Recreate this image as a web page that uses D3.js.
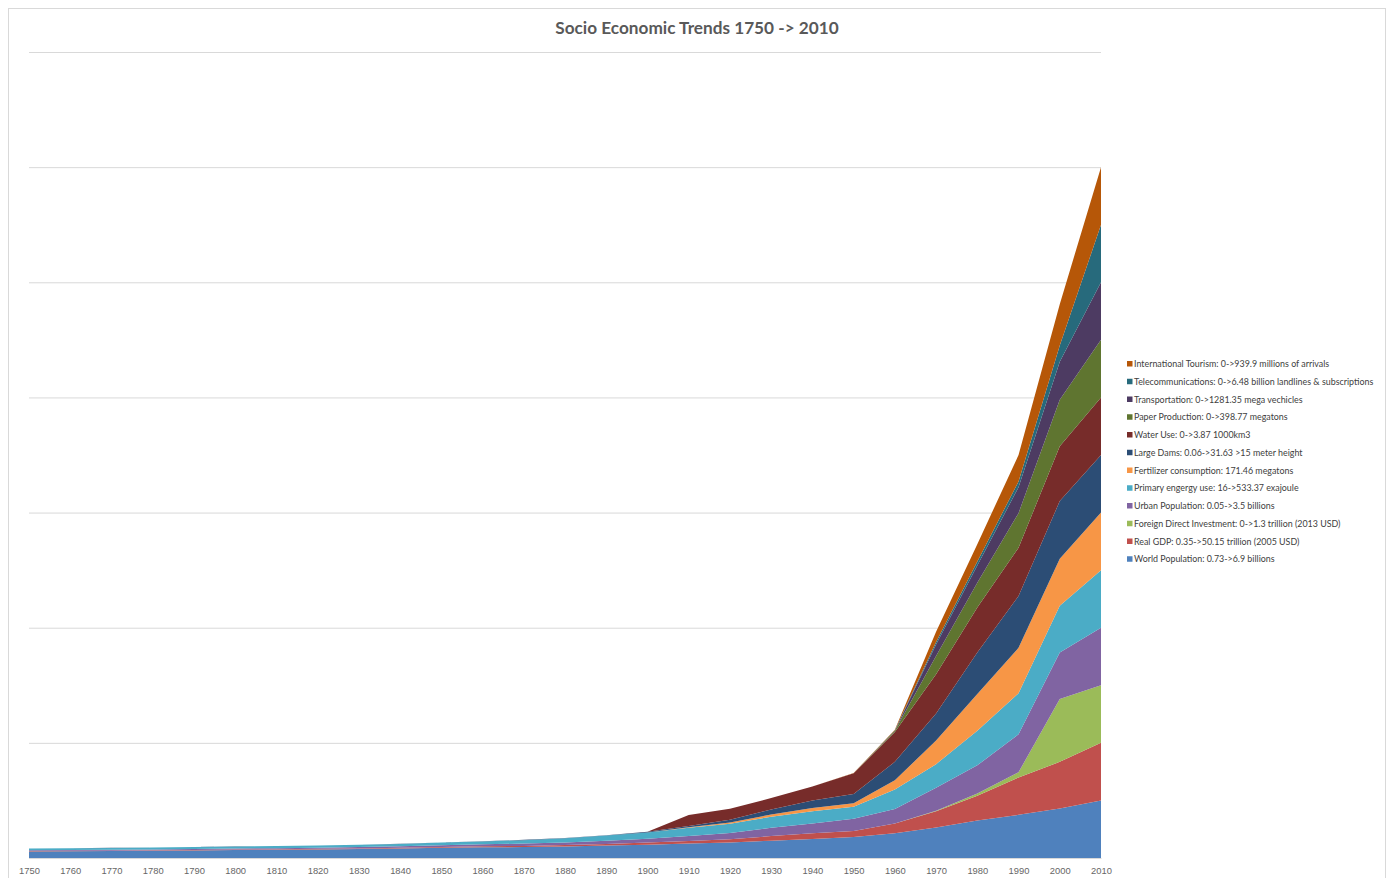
<!DOCTYPE html>
<html>
<head>
<meta charset="utf-8">
<script src="https://cdn.jsdelivr.net/npm/d3@7"></script>
<style>
body { margin: 0; background: #fff; }
svg { font-family: Lato, 'Open Sans', sans-serif; }
.grid line { stroke: #d9d9d9; }
.grid .domain { display: none; }
.x-axis .domain { stroke: #d9d9d9; }
.x-axis text { fill: #666; font-size: 9.4px; }
.legend text { fill: #404040; font-size: 8.9px; }
</style>
</head>
<body>
<svg id="chart" width="1391" height="878"></svg>
<script>
// values are each series divided by its 2010 value (as plotted)
var years = [1750,1760,1770,1780,1790,1800,1810,1820,1830,1840,1850,1860,1870,1880,1890,
             1900,1910,1920,1930,1940,1950,1960,1970,1980,1990,2000,2010];

var population = [0.114,0.117,0.12,0.125,0.132,0.137,0.142,0.148,0.155,0.165,0.178,0.185,0.19,0.2,0.215,
                  0.23,0.25,0.27,0.3,0.33,0.365,0.43,0.53,0.65,0.75,0.86,1.0];
var gdp = [0.007,0.007,0.008,0.008,0.009,0.01,0.01,0.011,0.012,0.013,0.015,0.017,0.02,0.024,0.03,
           0.04,0.045,0.055,0.08,0.1,0.105,0.17,0.28,0.43,0.65,0.81,1.0];
var fdi = [0,0,0,0,0,0,0,0,0,0,0,0,0,0,0,
           0,0,0,0,0,0,0,0.01,0.04,0.09,1.09,1.0];
var urban = [0.014,0.014,0.015,0.016,0.017,0.018,0.019,0.02,0.022,0.025,0.03,0.035,0.04,0.047,0.055,
             0.065,0.085,0.11,0.145,0.17,0.21,0.25,0.4,0.49,0.66,0.81,1.0];
var energy = [0.03,0.03,0.031,0.032,0.033,0.035,0.036,0.038,0.04,0.042,0.045,0.05,0.06,0.07,0.09,
              0.11,0.145,0.16,0.19,0.21,0.21,0.34,0.41,0.6,0.71,0.81,1.0];
var fertilizer = [0,0,0,0,0,0,0,0,0,0,0,0,0,0,0,
                  0,0.01,0.02,0.04,0.06,0.06,0.16,0.41,0.64,0.79,0.82,1.0];
var dams = [0.002,0.002,0.002,0.002,0.002,0.002,0.002,0.002,0.003,0.003,0.003,0.004,0.005,0.006,0.007,
            0.01,0.02,0.05,0.087,0.13,0.16,0.32,0.47,0.72,0.9,1.0,1.0];
var water = [0,0,0,0,0,0,0,0,0,0,0,0,0,0,0,
             0,0.19,0.19,0.2,0.24,0.36,0.52,0.68,0.78,0.84,0.95,1.0];
var paper = [0,0,0,0,0,0,0,0,0,0,0,0,0,0,0,
             0,0,0,0,0,0,0.02,0.32,0.43,0.6,0.81,1.0];
var transport = [0,0,0,0,0,0,0,0,0,0,0,0,0,0,0,
                 0,0,0,0,0,0,0.005,0.2,0.3,0.45,0.66,1.0];
var telecom = [0,0,0,0,0,0,0,0,0,0,0,0,0,0,0,
               0,0,0,0,0,0,0.003,0.04,0.07,0.1,0.28,1.0];
var tourism = [0,0,0,0,0,0,0,0,0,0,0,0,0,0,0,
               0,0,0,0,0,0.005,0.01,0.18,0.3,0.46,0.72,1.0];

var series_keys = ['population','gdp','fdi','urban','energy','fertilizer','dams','water',
                   'paper','transport','telecom','tourism'];
var series_values = [population, gdp, fdi, urban, energy, fertilizer, dams, water,
                     paper, transport, telecom, tourism];
var series_labels = [
  'World Population: 0.73->6.9 billions',
  'Real GDP: 0.35->50.15 trillion (2005 USD)',
  'Foreign Direct Investment: 0->1.3 trillion (2013 USD)',
  'Urban Population: 0.05->3.5 billions',
  'Primary engergy use: 16->533.37 exajoule',
  'Fertilizer consumption: 171.46 megatons',
  'Large Dams: 0.06->31.63 >15 meter height',
  'Water Use: 0->3.87 1000km3',
  'Paper Production: 0->398.77 megatons',
  'Transportation: 0->1281.35 mega vechicles',
  'Telecommunications: 0->6.48 billion landlines & subscriptions',
  'International Tourism: 0->939.9 millions of arrivals'
];
var series_colors = ['#4f81bd','#c0504d','#9bbb59','#8064a2','#4bacc6','#f79646',
                     '#2c4d75','#772c2a','#5f7530','#4d3b62','#276a7c','#b65708'];

var y_ticks = [0,2,4,6,8,10,12,14];

var svg = d3.select('#chart');

// chart frame
svg.append('rect')
  .attr('x', 8.5).attr('y', 8.5)
  .attr('width', 1377).attr('height', 900)
  .attr('fill', 'none')
  .attr('stroke', '#d9d9d9');

svg.append('text')
  .attr('x', 697).attr('y', 34)
  .attr('text-anchor', 'middle')
  .style('font-size', '17.2px')
  .style('font-weight', 'bold')
  .style('fill', '#595959')
  .text('Socio Economic Trends 1750 -> 2010');

var x = d3.scaleLinear().domain([1750, 2010]).range([29, 1101]);
var y = d3.scaleLinear().domain([0, 14]).range([858, 52]);

svg.append('g')
  .attr('class', 'grid')
  .attr('transform', 'translate(29,0)')
  .call(d3.axisRight(y).tickValues(y_ticks).tickSize(1072).tickFormat(''));

var rows = years.map(function(yr, i) {
  var r = { year: yr };
  series_keys.forEach(function(k, j) { r[k] = series_values[j][i]; });
  return r;
});

var stack = d3.stack().keys(series_keys);
var layers = stack(rows);

var area = d3.area()
  .x(function(d) { return x(d.data.year); })
  .y0(function(d) { return y(d[0]); })
  .y1(function(d) { return y(d[1]); });

svg.append('g')
  .selectAll('path')
  .data(layers)
  .join('path')
    .attr('d', area)
    .attr('fill', function(d, i) { return series_colors[i]; });

svg.append('g')
  .attr('class', 'x-axis')
  .attr('transform', 'translate(0,858)')
  .call(d3.axisBottom(x)
        .tickValues(years)
        .tickFormat(d3.format('d'))
        .tickSize(0)
        .tickPadding(9));

// legend, last series on top
var legend = svg.append('g').attr('class', 'legend');
var order = series_keys.map(function(k, i) { return i; }).reverse();

order.forEach(function(si, row) {
  var ly = 364 + row * 17.75;
  legend.append('rect')
    .attr('x', 1127).attr('y', ly - 3)
    .attr('width', 5.5).attr('height', 5.5)
    .attr('fill', series_colors[si]);
  legend.append('text')
    .attr('x', 1134).attr('y', ly + 3)
    .text(series_labels[si]);
});
</script>
</body>
</html>
